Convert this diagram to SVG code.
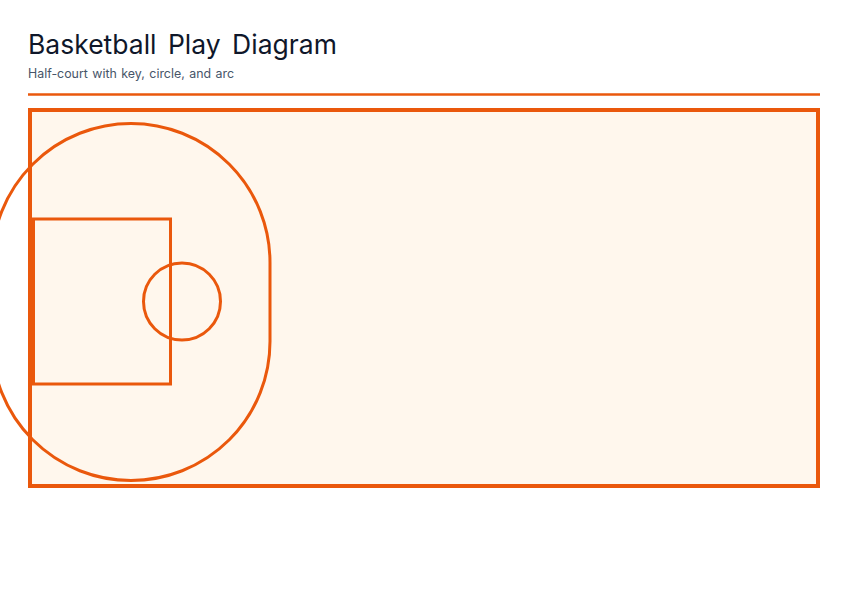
<svg xmlns="http://www.w3.org/2000/svg" width="848" height="600" viewBox="0 0 848 600">
  <style>
    .title { font-family: Inter, "Liberation Sans", sans-serif; font-size: 26.5px; fill: #0f172a; word-spacing: 4px; }
    .subtitle { font-family: Inter, "Liberation Sans", sans-serif; font-size: 12.4px; fill: #475569; word-spacing: 1px; }
    .line { fill: none; stroke: #ea580c; }
  </style>
  <rect x="0" y="0" width="848" height="600" fill="#ffffff"/>
  <g id="header">
    <text class="title" x="28" y="54">Basketball Play Diagram</text>
    <text class="subtitle" x="28" y="78">Half-court with key, circle, and arc</text>
    <line x1="28" y1="94.5" x2="820" y2="94.5" stroke="#ea580c" stroke-width="2.5"/>
  </g>
  <g id="court">
    <rect x="30" y="110" width="788" height="376" fill="#fff7ed" stroke="#ea580c" stroke-width="4"/>
  </g>
  <g id="three-point-arc">
    <rect class="line" x="-8" y="123.5" width="278" height="357" rx="139" ry="139" stroke-width="3"/>
  </g>
  <g id="key">
    <rect class="line" x="33.5" y="219" width="137" height="165" stroke-width="3"/>
  </g>
  <g id="free-throw-circle">
    <circle class="line" cx="182" cy="301.5" r="38.5" stroke-width="3"/>
  </g>
</svg>
